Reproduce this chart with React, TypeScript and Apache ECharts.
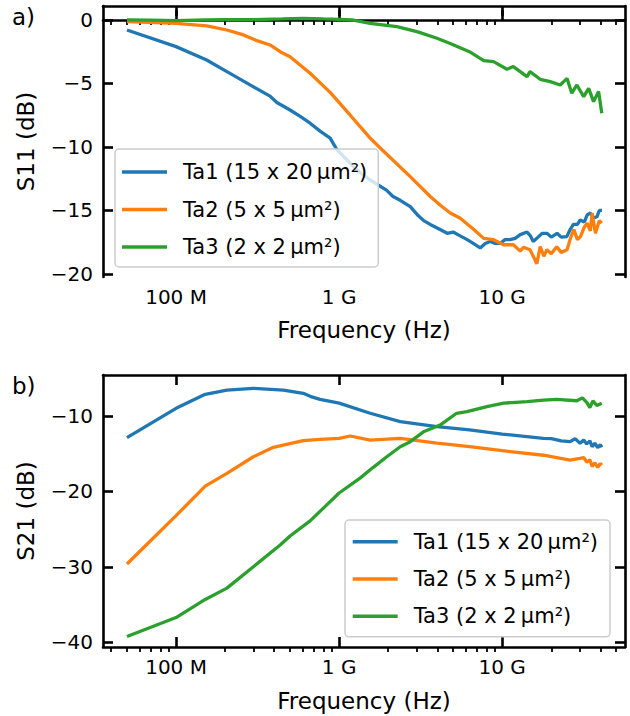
import React, { useEffect, useRef } from "react";
import * as echarts from "echarts";

// ---------- data (frequency in GHz, values in dB) ----------
const names = ["Ta1 (15 x 20\u2009μm²)", "Ta2 (5 x 5\u2009μm²)", "Ta3 (2 x 2\u2009μm²)"];
const colors = ["#1f77b4", "#ff7f0e", "#2ca02c"];

const s11Ta1F = [0.05, 0.1, 0.154, 0.205, 0.297, 0.377, 0.415, 0.5, 0.577, 0.664, 0.764, 0.881, 0.918, 0.968, 1.28, 1.55, 1.95, 2.14, 2.37, 2.73, 3.05, 3.3, 3.62, 4.16, 4.6, 5.0, 5.52, 6.1, 6.64, 7.33, 7.87, 8.44, 9.06, 9.72, 10.4, 11.2, 12.0, 12.9, 14.2, 14.9, 15.5, 16.6, 17.6, 18.8, 20.0, 21.7, 23.0, 24.9, 26.1, 27.3, 28.9, 30.1, 31.9, 33.2, 34.7, 36.2, 38.1, 39.4, 40.9];
const s11Ta1V = [-0.79, -2.1, -3.15, -4.07, -5.25, -6.0, -6.5, -7.09, -7.6, -8.13, -8.75, -9.3, -9.7, -10.2, -11.8, -12.6, -13.4, -13.9, -14.2, -14.7, -15.4, -15.8, -16.1, -16.5, -16.8, -16.7, -17.0, -17.3, -17.6, -17.95, -17.6, -17.45, -17.6, -17.6, -17.3, -17.3, -17.2, -16.9, -16.7, -17.0, -17.45, -17.1, -16.8, -16.8, -17.1, -16.8, -17.1, -17.06, -16.5, -16.1, -16.1, -15.75, -15.9, -15.35, -15.2, -15.6, -15.5, -15.0, -15.0];

const s11Ta2F = [0.05, 0.1, 0.154, 0.205, 0.259, 0.313, 0.377, 0.435, 0.5, 0.664, 0.881, 1.17, 1.55, 1.86, 2.73, 3.62, 4.16, 4.8, 5.5, 6.7, 7.7, 8.85, 10.2, 11.7, 12.9, 13.5, 14.8, 15.5, 16.3, 17.1, 18.0, 18.8, 20.0, 21.6, 23.0, 25.0, 26.2, 27.5, 28.9, 30.2, 31.9, 33.2, 34.7, 35.6, 37.3, 39.4, 40.8];
const s11Ta2V = [-0.13, -0.26, -0.47, -0.79, -1.18, -1.63, -1.97, -2.5, -2.89, -4.2, -5.7, -7.5, -9.3, -10.3, -12.34, -13.9, -14.57, -15.2, -15.6, -16.5, -17.2, -17.3, -17.7, -17.7, -18.2, -17.9, -18.1, -18.6, -19.2, -17.85, -18.6, -18.1, -18.4, -17.85, -18.3, -18.1, -17.2, -16.5, -17.3, -17.06, -16.3, -16.0, -16.6, -15.2, -16.8, -15.8, -16.0];

const s11Ta3F = [0.05, 0.07, 0.1, 0.15, 0.2, 0.3, 0.45, 0.6, 0.8, 1.0, 1.2, 1.55, 2.26, 3.0, 3.98, 4.8, 6.3, 7.7, 8.85, 10.7, 11.7, 14.2, 14.8, 17.1, 19.7, 22.7, 25.0, 26.7, 28.7, 31.6, 33.9, 36.3, 39.0, 40.8];
const s11Ta3V = [0.0, -0.02, -0.05, 0.0, 0.03, 0.02, 0.08, 0.13, 0.08, 0.05, 0.0, -0.26, -0.53, -0.92, -1.44, -1.85, -2.5, -3.2, -3.28, -3.88, -3.67, -4.46, -4.07, -4.67, -4.86, -5.12, -4.6, -5.77, -5.12, -6.04, -5.38, -6.43, -5.64, -7.35];

const s21Ta1F = [0.05, 0.1, 0.151, 0.205, 0.298, 0.455, 0.603, 0.664, 0.764, 1.0, 1.55, 2.37, 3.98, 6.3, 10.0, 17.9, 20.0, 23.0, 26.1, 28.0, 30.0, 31.6, 33.0, 34.5, 35.6, 37.0, 38.5, 40.0, 40.8];
const s21Ta1V = [-12.87, -8.98, -7.13, -6.56, -6.33, -6.56, -7.0, -7.4, -7.8, -8.3, -9.64, -10.75, -11.4, -11.85, -12.4, -12.96, -13.0, -13.3, -13.4, -13.0, -13.6, -13.2, -13.7, -13.3, -14.07, -13.6, -14.2, -13.8, -14.15];

const s21Ta2F = [0.05, 0.1, 0.151, 0.205, 0.298, 0.395, 0.603, 0.764, 1.0, 1.17, 1.55, 2.37, 3.98, 6.3, 10.0, 17.9, 26.1, 30.0, 31.6, 33.0, 34.5, 35.6, 37.0, 38.5, 40.0, 40.8];
const s21Ta2V = [-29.6, -23.2, -19.3, -17.6, -15.4, -14.15, -13.27, -13.1, -12.96, -12.65, -13.2, -12.96, -13.6, -14.07, -14.6, -15.2, -15.83, -15.6, -15.5, -16.1, -15.8, -16.7, -16.2, -16.8, -16.3, -16.5];

const s21Ta3F = [0.05, 0.1, 0.151, 0.205, 0.298, 0.435, 0.5, 0.664, 0.801, 1.0, 1.35, 1.62, 1.96, 2.37, 2.73, 3.29, 4.16, 5.25, 6.08, 8.06, 10.2, 14.2, 17.9, 21.6, 28.7, 31.0, 33.0, 34.5, 36.0, 38.0, 40.8];
const s21Ta3V = [-39.2, -36.7, -34.3, -32.8, -29.96, -27.1, -25.9, -23.9, -22.2, -20.2, -18.2, -16.8, -15.4, -14.07, -13.4, -12.1, -11.2, -9.64, -9.43, -8.77, -8.3, -8.1, -7.9, -7.8, -7.98, -7.6, -8.2, -8.9, -8.0, -8.6, -8.3];

// axis ticks (log10 of Hz)
const xMajor = [8, 9, 10];
const xMajorLabels = ["100 M", "1 G", "10 G"];
const xMinorHz = [4e7, 5e7, 6e7, 7e7, 8e7, 9e7, 2e8, 3e8, 4e8, 5e8, 6e8, 7e8, 8e8, 9e8, 2e9, 3e9, 4e9, 5e9, 6e9, 7e9, 8e9, 9e9, 2e10, 3e10, 4e10, 5e10];
const s11Ticks = [-20, -15, -10, -5, 0];
const s21Ticks = [-40, -30, -20, -10];

const X_MIN = 7.552;
const X_MAX = 10.753;

const FONT = "DejaVu Sans";

function pts(f: number[], v: number[]) {
  return f.map((g, i) => [Math.log10(g * 1e9), v[i]]);
}

function fmtMinus(v: number) {
  return String(v).replace("-", "\u2212");
}

function xAxes(gridIndex: number, nameGap: number) {
  const minor = xMinorHz.map((h) => Math.log10(h));
  return [
    {
      type: "value",
      gridIndex,
      position: "bottom",
      min: X_MIN,
      max: X_MAX,
      name: "Frequency (Hz)",
      nameLocation: "middle",
      nameGap,
      nameTextStyle: { fontFamily: FONT, fontSize: 23, color: "#000" },
      axisLine: { show: true, lineStyle: { color: "#000", width: 2.6 } },
      axisTick: { show: true, inside: true, length: 10, customValues: xMajor, lineStyle: { color: "#000", width: 2.6 } },
      axisLabel: {
        show: true,
        customValues: xMajor,
        margin: 10,
        fontFamily: FONT,
        fontSize: 20,
        color: "#000",
        formatter: (v: number) => xMajorLabels[xMajor.indexOf(Math.round(v))] ?? "",
      },
      splitLine: { show: false },
    },
    {
      type: "value",
      gridIndex,
      position: "bottom",
      min: X_MIN,
      max: X_MAX,
      axisLine: { show: false },
      axisTick: { show: true, inside: false, length: 5, customValues: minor, lineStyle: { color: "#000", width: 1.8 } },
      axisLabel: { show: false },
      splitLine: { show: false },
    },
    {
      type: "value",
      gridIndex,
      position: "top",
      min: X_MIN,
      max: X_MAX,
      axisLine: { show: true, lineStyle: { color: "#000", width: 2.6 } },
      axisTick: { show: true, inside: true, length: 10, customValues: xMajor, lineStyle: { color: "#000", width: 2.6 } },
      axisLabel: { show: false },
      splitLine: { show: false },
    },
  ];
}

function yAxes(gridIndex: number, min: number, max: number, ticks: number[], name: string) {
  return [
    {
      type: "value",
      gridIndex,
      position: "left",
      min,
      max,
      name,
      nameLocation: "middle",
      nameGap: 66,
      nameTextStyle: { fontFamily: FONT, fontSize: 23, color: "#000" },
      axisLine: { show: true, lineStyle: { color: "#000", width: 2.6 } },
      axisTick: { show: true, inside: true, length: 10, customValues: ticks, lineStyle: { color: "#000", width: 2.6 } },
      axisLabel: { show: true, customValues: ticks, margin: 10, fontFamily: FONT, fontSize: 20, color: "#000", formatter: fmtMinus },
      splitLine: { show: false },
    },
    {
      type: "value",
      gridIndex,
      position: "right",
      min,
      max,
      axisLine: { show: true, lineStyle: { color: "#000", width: 2.6 } },
      axisTick: { show: true, inside: true, length: 10, customValues: ticks, lineStyle: { color: "#000", width: 2.6 } },
      axisLabel: { show: false },
      splitLine: { show: false },
    },
  ];
}

function legend(left: number, top: number, padding: number[], gap: number) {
  return {
    orient: "vertical",
    left,
    top,
    padding,
    itemGap: gap,
    itemWidth: 45,
    itemHeight: 3.5,
    icon: "rect",
    backgroundColor: "rgba(255,255,255,0.8)",
    borderColor: "#cccccc",
    borderWidth: 1.5,
    borderRadius: 4,
    data: names,
    selectedMode: false,
    textStyle: { fontFamily: FONT, fontSize: 21, color: "#000", padding: [0, 0, 0, 11] },
  };
}

function line(name: string, color: string, data: number[][], xi: number, yi: number) {
  return {
    type: "line",
    name,
    data,
    xAxisIndex: xi,
    yAxisIndex: yi,
    showSymbol: false,
    symbol: "none",
    color,
    lineStyle: { color, width: 3.3 },
    z: 2,
  };
}

export default function App() {
  const ref = useRef<HTMLDivElement>(null);
  useEffect(() => {
    if (!ref.current) return;
    const chart = echarts.init(ref.current, null, { renderer: "svg" });
    const option: any = {
      animation: false,
      backgroundColor: "#fff",
      textStyle: { fontFamily: FONT },
      grid: [
        { left: 103, top: 6, right: 5, height: 271 },
        { left: 103, top: 375, right: 5, height: 272 },
      ],
      xAxis: [...xAxes(0, 41), ...xAxes(1, 42)],
      yAxis: [
        ...yAxes(0, -20.24, 1.1, s11Ticks, "S11 (dB)"),
        ...yAxes(1, -40.6, -4.57, s21Ticks, "S21 (dB)"),
      ],
      legend: [
        legend(115, 149, [12.5, 11, 9.5, 7], 16.5),
        legend(345, 520, [11.2, 12, 10, 7.7], 16.3),
      ],
      graphic: [
        { type: "text", left: 12, top: 5, style: { text: "a)", fontFamily: FONT, fontSize: 23, fill: "#000" } },
        { type: "text", left: 12, top: 374, style: { text: "b)", fontFamily: FONT, fontSize: 23, fill: "#000" } },
      ],
      series: [
        line(names[0], colors[0], pts(s11Ta1F, s11Ta1V), 0, 0),
        line(names[1], colors[1], pts(s11Ta2F, s11Ta2V), 0, 0),
        line(names[2], colors[2], pts(s11Ta3F, s11Ta3V), 0, 0),
        line(names[0], colors[0], pts(s21Ta1F, s21Ta1V), 3, 2),
        line(names[1], colors[1], pts(s21Ta2F, s21Ta2V), 3, 2),
        line(names[2], colors[2], pts(s21Ta3F, s21Ta3V), 3, 2),
      ],
    };
    chart.setOption(option);
    return () => chart.dispose();
  }, []);
  return <div ref={ref} style={{ position: "fixed", left: 0, top: 0, width: 630, height: 716 }} />;
}
